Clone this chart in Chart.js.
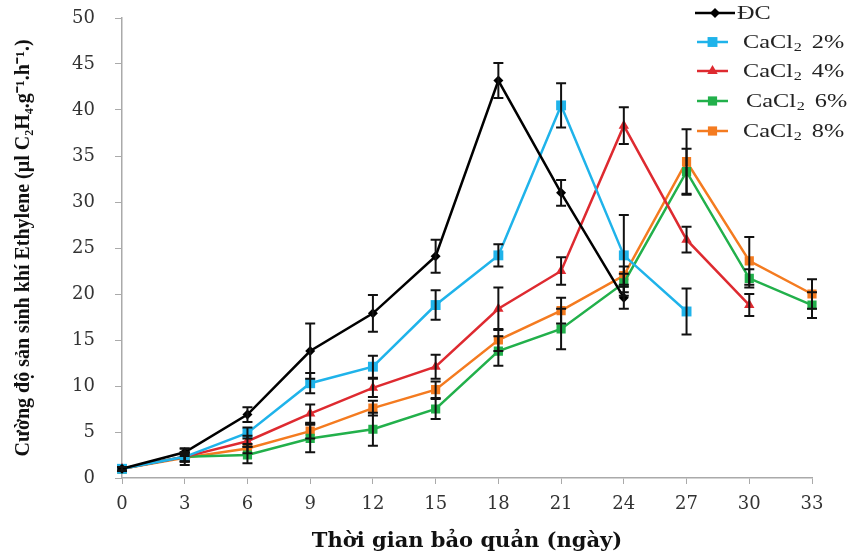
<!DOCTYPE html>
<html>
<head>
<meta charset="utf-8">
<script src="https://cdn.jsdelivr.net/npm/chart.js@4.4.0/dist/chart.umd.min.js"></script>
<style>
  html, body { margin: 0; padding: 0; background: #fff; }
  #wrap { width: 852px; height: 554px; }
</style>
</head>
<body>
<div id="wrap"><canvas id="myChart" width="852" height="554"></canvas></div>
<script>
// days of storage
const days = ['0', '3', '6', '9', '12', '15', '18', '21', '24', '27', '30', '33'];
const yTicks = [0, 5, 10, 15, 20, 25, 30, 35, 40, 45, 50];

const seriesNames = ['ĐC', 'CaCl₂ 2%', 'CaCl₂ 4%', 'CaCl₂ 6%', 'CaCl₂ 8%'];
const legendPct = ['', '2%', '4%', '6%', '8%'];

const dc     = [1.0, 2.8, 6.9, 13.8, 17.9, 24.1, 43.2, 31.0, 19.6, null, null, null];
const dcErr  = [0.2, 0.4, 0.8, 3.0, 2.0, 1.8, 1.9, 1.4, 1.2];
const ca2    = [1.0, 2.3, 4.9, 10.3, 12.1, 18.8, 24.2, 40.5, 24.2, 18.1, null, null];
const ca2Err = [0.2, 0.5, 0.6, 1.1, 1.2, 1.6, 1.2, 2.4, 4.4, 2.5];
const ca4    = [1.0, 2.3, 4.0, 7.0, 9.8, 12.1, 18.4, 22.5, 38.3, 25.9, 18.8, null];
const ca4Err = [0.2, 0.5, 0.6, 1.0, 1.0, 1.3, 2.3, 1.5, 2.0, 1.4, 1.2];
const ca6    = [1.0, 2.3, 2.5, 4.3, 5.3, 7.5, 13.8, 16.2, 21.2, 33.3, 21.7, 18.8];
const ca6Err = [0.2, 0.9, 0.9, 1.5, 1.8, 1.1, 1.6, 2.2, 1.0, 2.5, 1.0, 1.4];
const ca8    = [1.0, 2.2, 3.2, 5.1, 7.6, 9.6, 15.0, 18.2, 22.0, 34.4, 23.6, 20.0];
const ca8Err = [0.2, 0.4, 0.5, 0.8, 0.8, 0.9, 1.2, 1.4, 1.0, 3.5, 2.6, 1.6];

const colors = ['#000000', '#1fb3ea', '#de2a30', '#22b04b', '#f47b20'];
const styles = ['rectRot', 'rect', 'triangle', 'rect', 'rect'];
const radii  = [5, 7, 6, 6.5, 6.5];

const serif = "'Liberation Serif', 'Times New Roman', serif";
const wideSerif = "'DejaVu Serif', serif";

// black error bars drawn over the lines
const errorBars = {
    id: 'errorBars',
    afterDatasetsDraw(chart) {
        const ctx = chart.ctx;
        const yScale = chart.scales.y;
        ctx.save();
        ctx.strokeStyle = '#111';
        ctx.lineWidth = 2;
        chart.data.datasets.forEach((ds, i) => {
            const meta = chart.getDatasetMeta(i);
            ds.data.forEach((v, j) => {
                if (v === null || ds.errors[j] === undefined) return;
                const x = meta.data[j].x;
                const yt = yScale.getPixelForValue(v + ds.errors[j]);
                const yb = yScale.getPixelForValue(v - ds.errors[j]);
                ctx.beginPath();
                ctx.moveTo(x, yt); ctx.lineTo(x, yb);
                ctx.moveTo(x - 5, yt); ctx.lineTo(x + 5, yt);
                ctx.moveTo(x - 5, yb); ctx.lineTo(x + 5, yb);
                ctx.stroke();
            });
        });
        ctx.restore();
    }
};

function drawMarker(ctx, style, x, y, r, color) {
    ctx.fillStyle = color;
    ctx.beginPath();
    if (style === 'rectRot') {
        ctx.moveTo(x, y - r); ctx.lineTo(x + r, y); ctx.lineTo(x, y + r); ctx.lineTo(x - r, y);
    } else if (style === 'triangle') {
        ctx.moveTo(x, y - r); ctx.lineTo(x + r * 0.87, y + r * 0.5); ctx.lineTo(x - r * 0.87, y + r * 0.5);
    } else {
        const s = r * Math.SQRT1_2;
        ctx.rect(x - s, y - s, 2 * s, 2 * s);
    }
    ctx.closePath();
    ctx.fill();
}

// legend in the top right corner, line + marker + label (text stretched wide like the scan)
const cornerLegend = {
    id: 'cornerLegend',
    afterDraw(chart) {
        const ctx = chart.ctx;
        const rows = [
            { y: 13, x0: 695, x1: 735, tx: 737 },
            { y: 42, x0: 697, x1: 728, tx: 743 },
            { y: 71, x0: 697, x1: 728, tx: 743 },
            { y: 101, x0: 697, x1: 728, tx: 746 },
            { y: 131, x0: 697, x1: 728, tx: 743 }
        ];
        const sx = 1.35;
        ctx.save();
        rows.forEach((r, i) => {
            ctx.strokeStyle = colors[i];
            ctx.lineWidth = 2.5;
            ctx.beginPath();
            ctx.moveTo(r.x0, r.y); ctx.lineTo(r.x1, r.y);
            ctx.stroke();
            drawMarker(ctx, styles[i], (r.x0 + r.x1) / 2, r.y, radii[i], colors[i]);

            ctx.save();
            ctx.translate(r.tx, r.y + 1);
            ctx.scale(sx, 1);
            ctx.fillStyle = '#222';
            ctx.textBaseline = 'middle';
            ctx.textAlign = 'left';
            ctx.font = '18px ' + serif;
            if (i === 0) {
                ctx.fillText(seriesNames[0], 0, 0);
            } else {
                let x = 0;
                ctx.fillText('CaCl', x, 0);
                x += ctx.measureText('CaCl').width;
                ctx.font = '12px ' + serif;
                ctx.fillText('2', x + 0.5, 5);
                x += ctx.measureText('2').width + 8;
                ctx.font = '18px ' + serif;
                ctx.fillText(legendPct[i], x, 0);
            }
            ctx.restore();
        });
        ctx.restore();
    }
};

const allData = [dc, ca2, ca4, ca6, ca8];
const allErr = [dcErr, ca2Err, ca4Err, ca6Err, ca8Err];

new Chart(document.getElementById('myChart'), {
    type: 'line',
    data: {
        labels: days,
        datasets: allData.map((d, i) => ({
            label: seriesNames[i],
            data: d,
            errors: allErr[i],
            borderColor: colors[i],
            backgroundColor: colors[i],
            borderWidth: 2.5,
            pointStyle: styles[i],
            pointRadius: radii[i],
            pointBorderWidth: 0,
            tension: 0
        }))
    },
    options: {
        responsive: false,
        animation: false,
        layout: { padding: { top: 18, right: 40, left: 0, bottom: 0 } },
        plugins: {
            legend: { display: false },
            tooltip: { enabled: false }
        },
        scales: {
            x: {
                type: 'category',
                offset: false,
                afterFit(scale) { scale.height = 76; },
                grid: { drawOnChartArea: false, drawTicks: true, tickLength: 6, color: '#aaa' },
                border: { color: '#aaa', width: 1.5 },
                ticks: { color: '#333', padding: 10, maxRotation: 0, font: { family: wideSerif, size: 18 } },
                title: {
                    display: true,
                    text: 'Thời gian bảo quản (ngày)',
                    color: '#111',
                    padding: { top: 0, bottom: 0 },
                    font: { family: wideSerif, size: 21, weight: 'bold' }
                }
            },
            y: {
                min: 0,
                max: 50,
                afterFit(scale) {
                    scale.width = 122;
                    scale.paddingTop = 0;
                    scale.paddingBottom = 0;
                },
                afterBuildTicks(scale) { scale.ticks = yTicks.map(v => ({ value: v })); },
                grid: { drawOnChartArea: false, drawTicks: true, tickLength: 7, color: '#aaa' },
                border: { color: '#aaa', width: 1.5 },
                ticks: { color: '#333', padding: 20, font: { family: wideSerif, size: 18 } },
                title: {
                    display: true,
                    text: 'Cường độ sản sinh khí Ethylene (µl C₂H₄.g⁻¹.h⁻¹.)',
                    color: '#111',
                    padding: { top: 12, bottom: 0 },
                    font: { family: serif, size: 20, weight: 'bold' }
                }
            }
        }
    },
    plugins: [errorBars, cornerLegend]
});
</script>
</body>
</html>
